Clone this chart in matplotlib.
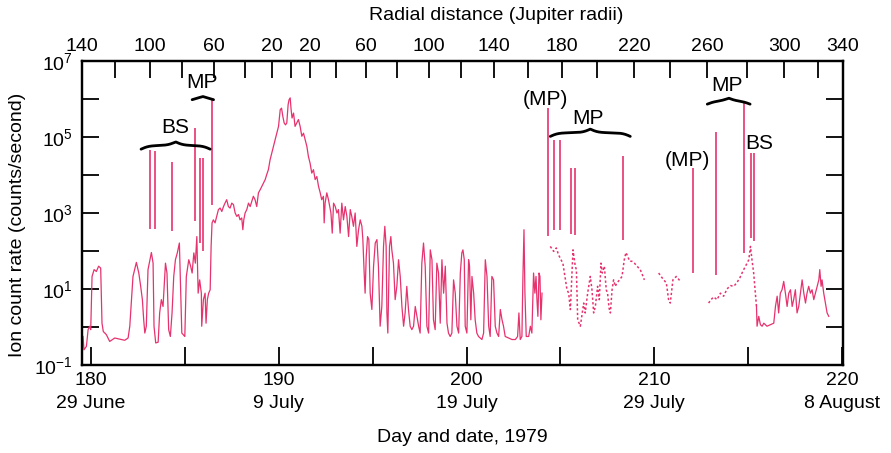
import numpy as np
import matplotlib
matplotlib.use("Agg")
import matplotlib.pyplot as plt
from matplotlib.ticker import FixedLocator, NullLocator

plt.rcParams["font.family"] = ["Liberation Sans", "DejaVu Sans"]
plt.rcParams["mathtext.fontset"] = "custom"
plt.rcParams["mathtext.rm"] = "Liberation Sans"

# ion count rate trace (day of 1979, log10 counts/s)
day = [179.58, 179.63, 179.76, 179.85, 179.93, 179.99, 180.06, 180.17, 180.29, 180.41,
       180.52, 180.59, 180.66, 180.82, 181.00, 181.27, 181.53, 181.80, 181.98, 182.07,
       182.24, 182.42, 182.55, 182.65, 182.74, 182.81, 182.87, 182.95, 183.04, 183.22,
       183.31, 183.36, 183.45, 183.58, 183.66, 183.75, 183.84, 183.97, 184.05, 184.14,
       184.23, 184.32, 184.41, 184.50, 184.60, 184.71, 184.78, 184.84, 185.00, 185.08,
       185.21, 185.31, 185.39, 185.48, 185.56, 185.64, 185.71, 185.79, 185.88, 185.90,
       185.99, 186.08, 186.13, 186.20, 186.27, 186.35, 186.40, 186.45, 186.52, 186.61,
       186.70, 186.79, 186.88, 186.97, 187.06, 187.14, 187.23, 187.32, 187.41, 187.50,
       187.59, 187.68, 187.77, 187.86, 187.94, 188.03, 188.09, 188.14, 188.21, 188.30,
       188.39, 188.48, 188.57, 188.65, 188.74, 188.83, 188.92, 189.01, 189.10, 189.19,
       189.28, 189.36, 189.45, 189.54, 189.63, 189.72, 189.81, 189.90, 189.99, 190.08,
       190.15, 190.22, 190.29, 190.36, 190.43, 190.50, 190.55, 190.61, 190.66, 190.71,
       190.79, 190.87, 190.96, 191.05, 191.14, 191.23, 191.32, 191.41, 191.50, 191.58,
       191.67, 191.76, 191.85, 191.94, 192.03, 192.12, 192.21, 192.29, 192.38, 192.42,
       192.47, 192.56, 192.65, 192.78, 192.85, 192.92, 193.01, 193.10, 193.18, 193.27,
       193.36, 193.45, 193.54, 193.63, 193.72, 193.81, 193.89, 193.98, 194.07, 194.16,
       194.25, 194.34, 194.43, 194.48, 194.55, 194.60, 194.66, 194.73, 194.80, 194.87,
       194.96, 195.05, 195.14, 195.23, 195.31, 195.40, 195.49, 195.58, 195.65, 195.72,
       195.76, 195.81, 195.90, 195.97, 196.02, 196.11, 196.20, 196.29, 196.38, 196.47,
       196.56, 196.65, 196.73, 196.82, 196.91, 197.00, 197.09, 197.18, 197.27, 197.36,
       197.45, 197.53, 197.62, 197.71, 197.80, 197.89, 197.98, 198.07, 198.16, 198.24,
       198.33, 198.42, 198.51, 198.60, 198.69, 198.78, 198.87, 198.96, 199.04, 199.13,
       199.22, 199.31, 199.40, 199.49, 199.58, 199.67, 199.75, 199.81, 199.88, 199.93,
       200.02, 200.11, 200.16, 200.23, 200.29, 200.38, 200.46, 200.55, 200.64, 200.73,
       200.82, 200.91, 201.00, 201.09, 201.18, 201.26, 201.35, 201.44, 201.53, 201.62,
       201.71, 201.80, 201.89, 201.97, 202.06, 202.24, 202.42, 202.60, 202.72, 202.79,
       202.86, 202.95, 203.00, 203.06, 203.11, 203.18, 203.31, 203.40, 203.48, 203.57,
       203.64, 203.70, 203.75, 203.80, 203.86, 203.91, 203.96, 204.02, np.nan, 215.44,
       215.47, 215.56, 215.65, 215.74, 215.83, 216.00, 216.18, 216.36, 216.45, 216.54,
       216.62, 216.71, 216.80, 216.89, 216.98, 217.07, 217.16, 217.25, 217.34, 217.42,
       217.51, 217.60, 217.69, 217.78, 217.87, 217.96, 218.05, 218.13, 218.22, 218.31,
       218.40, 218.49, 218.58, 218.67, 218.76, 218.81, 218.88, 218.93, 219.02, 219.11,
       219.20, 219.29]
log_rate = [-0.25, -0.60, -0.51, -0.07, 0.02, -0.07, 1.33, 1.51, 1.46, 1.60,
            1.55, 0.10, -0.12, -0.20, -0.38, -0.29, -0.32, -0.35, -0.29, 0.02,
            1.33, 1.70, 1.42, 1.07, 0.72, 0.19, -0.16, 0.02, 1.51, 1.96,
            1.68, 0.02, -0.42, -0.40, 0.37, 0.72, 0.54, 1.68, 1.42, -0.07,
            -0.25, 0.37, 1.33, 1.77, 1.95, 2.21, 0.89, -0.16, -0.25, 1.33,
            1.77, 1.60, 1.42, 1.95, 1.68, 2.38, 0.89, 1.24, 0.89, 0.02,
            0.72, 0.89, 0.10, 0.72, 0.89, 0.98, 2.12, 2.74, 2.82, 2.74,
            2.91, 3.09, 3.13, 3.04, 3.17, 3.26, 3.35, 3.17, 3.13, 3.26,
            3.22, 3.00, 2.91, 2.96, 2.82, 2.87, 2.56, 2.82, 3.00, 3.09,
            3.26, 3.17, 3.31, 3.44, 3.35, 3.17, 3.53, 3.61, 3.70, 3.79,
            3.88, 4.01, 4.14, 4.40, 4.58, 4.75, 4.93, 5.10, 5.28, 5.72,
            5.76, 5.54, 5.37, 5.32, 5.37, 5.85, 5.98, 6.03, 5.72, 5.50,
            5.63, 5.28, 5.37, 5.46, 5.28, 5.02, 5.10, 4.93, 4.75, 4.49,
            4.31, 4.05, 4.14, 3.88, 3.96, 3.70, 3.53, 3.35, 3.44, 2.74,
            3.26, 3.53, 3.35, 3.00, 2.47, 3.26, 3.17, 3.00, 3.09, 2.47,
            3.26, 2.82, 3.17, 2.91, 2.38, 3.09, 2.91, 2.65, 3.00, 2.12,
            2.56, 2.82, 2.65, 2.30, 1.42, 0.89, 1.86, 2.38, 2.30, 0.89,
            0.46, 1.60, 2.21, 2.30, 1.60, 0.02, 0.54, 2.12, 2.65, 2.12,
            0.37, -0.16, 2.12, 2.38, 2.04, 1.68, 0.72, 1.07, 1.77, 1.33,
            0.54, 0.02, 0.37, 1.07, 0.46, 0.02, -0.07, 0.02, 0.54, 0.28,
            0.02, -0.16, 1.68, 2.21, 1.60, 0.02, -0.16, 2.03, 1.77, 0.19,
            -0.07, 1.68, 1.42, 0.10, 1.77, 0.89, 1.60, 0.10, -0.16, -0.25,
            -0.16, 1.24, 0.89, 0.02, -0.16, 1.42, 1.95, 2.03, 1.77, 0.02,
            -0.16, 1.77, 1.60, 0.19, 1.33, 0.89, 0.19, -0.16, -0.25, -0.29,
            -0.33, -0.16, 1.77, 1.33, 0.02, -0.25, 1.33, 1.24, 0.02, -0.16,
            -0.25, 0.46, 0.19, 0.02, -0.25, -0.29, -0.33, -0.33, -0.25, 0.37,
            -0.33, -0.25, 1.24, 2.56, 0.89, -0.25, -0.25, 0.02, -0.16, 1.42,
            0.89, 1.33, 0.72, 0.28, 1.42, 1.33, 0.19, 0.89, np.nan, 0.54,
            0.02, 0.28, 0.06, 0.02, 0.10, 0.02, 0.06, 0.10, 0.54, 0.81,
            0.37, 0.89, 0.98, 1.20, 0.89, 0.54, 0.89, 0.98, 0.54, 0.72,
            0.98, 0.37, 0.54, 0.89, 1.24, 0.89, 0.63, 0.89, 1.07, 0.89,
            0.98, 0.72, 0.89, 1.07, 1.24, 1.51, 1.07, 1.24, 0.89, 0.63,
            0.37, 0.28]

# patchy coverage after day 204 (drawn broken)
sparse_day = [204.46, 204.64, 204.78, 204.90, 205.03, 205.13, 205.35, 205.44, 205.53, 205.67,
              205.79, 205.85, 205.92, 206.06, 206.24, 206.32, 206.45, 206.59, 206.68, 206.77,
              206.86, 206.98, 207.07, 207.16, 207.23, 207.34, 207.44, 207.51, 207.59, 207.66,
              207.75, 207.83, 207.92, 208.01, 208.15, 208.28, 208.40, 208.49, 208.58, 208.69,
              208.81, 208.94, 209.08, 209.25, 209.40, 209.47, np.nan,
              210.23, 210.36, 210.50, 210.64, 210.76, 210.85, 210.99, 211.17, 211.39, np.nan,
              212.89, 213.02, 213.16, 213.34, 213.52, 213.69, 213.87, 214.05, 214.23, 214.40,
              214.55, 214.67, 214.80, 214.94, 215.03, 215.12, 215.20, 215.29, 215.38, 215.44]
sparse_log = [2.12, 1.99, 2.08, 1.90, 1.77, 1.68, 0.98, 0.89, 0.46, 2.03,
              1.60, 1.51, 0.19, 0.02, 0.63, 0.37, 0.89, 1.33, 0.98, 0.37,
              0.54, 1.07, 0.72, 1.68, 1.42, 1.60, 0.98, 0.89, 0.50, 0.37,
              0.98, 1.24, 1.07, 1.16, 1.24, 1.33, 1.77, 1.96, 1.86, 1.73,
              1.73, 1.68, 1.60, 1.51, 1.33, 1.24, np.nan,
              1.42, 1.33, 1.24, 1.16, 0.72, 0.63, 1.24, 1.33, 1.20, np.nan,
              0.63, 0.72, 0.79, 0.72, 0.89, 0.81, 1.00, 1.09, 1.07, 1.17,
              1.29, 1.42, 1.55, 1.68, 1.77, 2.12, 1.77, 1.42, 0.89, 0.54]

# boundary-crossing spikes (day, log10 bottom, log10 top)
spike_day = [183.13, 183.42, 184.34, 185.53, 185.81, 185.99, 186.43, 204.32, 204.64,
             204.99, 205.56, 205.77, 208.33, 212.06, 213.30, 214.80, 215.15, 215.29]
spike_lo = [2.58, 2.58, 2.52, 2.78, 2.21, 1.99, 3.22, 2.39, 2.56,
            2.56, 2.46, 2.43, 2.30, 1.42, 1.38, 1.96, 2.34, 2.25]
spike_hi = [4.65, 4.62, 4.34, 5.24, 4.45, 4.45, 5.98, 5.76, 4.91,
            4.91, 4.18, 4.18, 4.51, 4.18, 5.12, 5.89, 4.58, 4.58]

# labels: text, day, axes-fraction height
ann_text = ["BS", "MP", "(MP)", "MP", "(MP)", "MP", "BS"]
ann_day = [184.48, 185.90, 204.20, 206.49, 211.75, 213.88, 215.60]
ann_y = [0.780, 0.930, 0.872, 0.810, 0.674, 0.918, 0.730]

# braces: start day, end day, axes-fraction base height, rise
brace_d0 = [182.67, 185.39, 204.46, 212.82]
brace_d1 = [186.35, 186.53, 208.72, 215.10]
brace_y = [0.710, 0.872, 0.752, 0.858]
brace_h = [0.024, 0.012, 0.024, 0.020]

bottom_ticks = [180, 185, 190, 195, 200, 205, 210, 215, 220]
bottom_labels = ["180", "", "190", "", "200", "", "210", "", "220"]
date_days = [180, 190, 200, 210, 220]
date_labels = ["29 June", "9 July", "19 July", "29 July", "8 August"]

top_ticks = [179.53, 181.28, 183.15, 184.85, 186.56, 188.21, 189.65, 190.66, 191.67,
             193.06, 194.66, 196.31, 198.01, 199.72, 201.48, 203.29, 205.10, 206.96,
             208.93, 210.85, 212.82, 214.95, 216.92, 218.73, 220.05]
top_labels = ["140", "", "100", "", "60", "", "20", "", "20", "", "60", "", "100", "",
              "140", "", "180", "", "220", "", "260", "", "300", "", "340"]

y_exp = [-1, 0, 1, 2, 3, 4, 5, 6, 7]

PINK = "#e6336e"


def brace(ax, d0, d1, yf, h=0.022, beta=190):
    lo, hi = ax.get_xlim()
    f0, f1 = (d0 - lo) / (hi - lo), (d1 - lo) / (hi - lo)
    xs = np.linspace(f0, f1, 301)
    half = xs[:151]
    yh = 1 / (1 + np.exp(-beta * (half - half[0]))) + 1 / (1 + np.exp(-beta * (half - half[-1])))
    ys = np.concatenate([yh, yh[-2::-1]])
    ax.plot(xs, yf + h * (ys - 0.5), transform=ax.transAxes, color="black",
            lw=2.0, solid_capstyle="round", clip_on=False)


fig = plt.figure(figsize=(8.91, 4.53), dpi=100)
ax = fig.add_axes([0.0915, 0.1943, 0.8547, 0.671])

ax.plot(day, 10 ** np.array(log_rate), color=PINK, lw=0.9)
ax.plot(sparse_day, 10 ** np.array(sparse_log), color=PINK, lw=1.1, ls=(0, (1.5, 1.5)))
ax.vlines(spike_day, 10 ** np.array(spike_lo), 10 ** np.array(spike_hi), color=PINK, lw=1.2)

ax.set_yscale("log")
ax.set_xlim(179.5, 220.05)
ax.set_ylim(10 ** -1, 10 ** 7)

ax.yaxis.set_major_locator(FixedLocator([10.0 ** e for e in y_exp]))
ax.yaxis.set_minor_locator(NullLocator())
ax.set_yticklabels([r"$\mathregular{10^{%d}}$" % e if e % 2 else "" for e in y_exp])
ax.tick_params(axis="y", direction="in", length=12, width=1.3, labelsize=14, pad=6,
               right=True)

ax.set_xticks(bottom_ticks)
ax.set_xticklabels(bottom_labels)
ax.tick_params(axis="x", direction="in", length=13, width=1.3, labelsize=14, pad=5)
for t in (ax.xaxis.get_major_ticks()[0], ax.xaxis.get_major_ticks()[-1]):
    t.tick1line.set_visible(False)
for d, lab in zip(date_days, date_labels):
    ax.text(d, -0.128, lab, transform=ax.get_xaxis_transform(), ha="center",
            va="center", fontsize=14)

ax_top = ax.twiny()
ax_top.set_xlim(ax.get_xlim())
ax_top.set_xticks(top_ticks)
ax_top.set_xticklabels(top_labels)
ax_top.tick_params(axis="x", direction="in", length=12, width=1.3, labelsize=14, pad=4)

for a in (ax, ax_top):
    for s in a.spines.values():
        s.set_linewidth(1.6)

for txt, d, yf in zip(ann_text, ann_day, ann_y):
    ax.text(d, yf, txt, transform=ax.get_xaxis_transform(), ha="center", va="center",
            fontsize=15)
for d0, d1, yf, h in zip(brace_d0, brace_d1, brace_y, brace_h):
    brace(ax, d0, d1, yf, h)

fig.text(462 / 891, 1 - 437 / 453, "Day and date, 1979", ha="center", va="center",
         fontsize=14)
fig.text(496 / 891, 1 - 15 / 453, "Radial distance (Jupiter radii)", ha="center",
         va="center", fontsize=14)
fig.text(18 / 891, 1 - 225 / 453, "Ion count rate (counts/second)", ha="center",
         va="center", rotation=90, fontsize=14)

fig.savefig("out.png", dpi=100)
